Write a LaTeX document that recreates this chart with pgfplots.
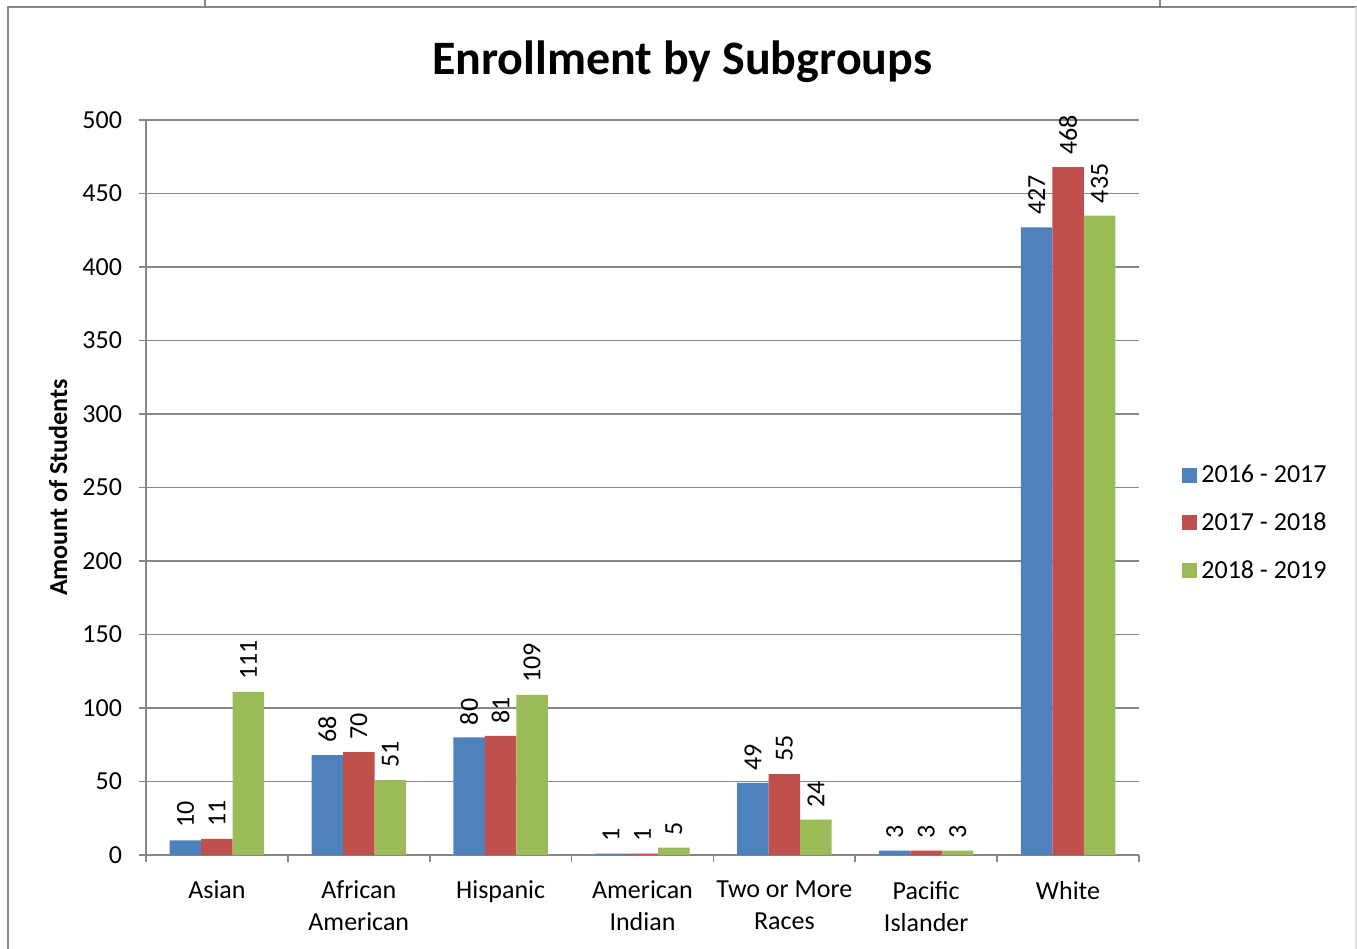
\documentclass[border=0pt]{standalone}
\usepackage{pgfplots}
\pgfplotsset{compat=1.18}
\usepackage{pgfplotstable}
\usepackage{fontspec}
\setmainfont{Carlito}

\definecolor{cblue}{HTML}{4F81BD}
\definecolor{cred}{HTML}{C0504D}
\definecolor{cgreen}{HTML}{9BBB59}
\definecolor{linegray}{HTML}{868686}

% x: 0 Asian, 1 African American, 2 Hispanic, 3 American Indian,
%    4 Two or More Races, 5 Pacific Islander, 6 White
\pgfplotstableread{
x  a   b   c
0  10  11  111
1  68  70  51
2  80  81  109
3  1   1   5
4  49  55  24
5  3   3   3
6  427 468 435
}\enrol

\newcommand{\lbl}{\fontsize{13}{16}\selectfont}

\begin{document}
\begin{tikzpicture}[x=0.5pt,y=0.5pt]
\path[use as bounding box] (0,0) rectangle (1357,949);
% frame of the sheet around the chart
\draw[linegray, line width=1pt] (7.5,0) -- (7.5,941.5) -- (1357,941.5);
\draw[linegray, line width=0.8pt] (205,949) -- (205,941.5);
\draw[linegray, line width=0.8pt] (1160,949) -- (1160,941.5);
\draw[black!12, line width=0.8pt] (1356,0) -- (1356,941.5);

\begin{axis}[
  at={(73pt,47pt)}, anchor=south west,
  scale only axis, width=496.5pt, height=367.5pt,
  xmin=-0.5, xmax=6.5, ymin=0, ymax=500,
  ybar, bar width=0.222,
  /pgf/number format/assume math mode=true,
  axis x line*=bottom, axis y line*=left,
  axis line style={linegray, line width=0.9pt, -},
  ymajorgrids, grid style={linegray, line width=0.9pt},
  tick align=outside, major tick length=3.5pt,
  tick style={linegray, line width=0.9pt},
  ytick={0,50,...,500},
  yticklabel style={font=\lbl, xshift=-5pt},
  xtick={-0.5,0.5,...,6.5}, xticklabels={},
  extra x ticks={0,1,2,3,4,5,6},
  extra x tick labels={Asian,African\\American,Hispanic,American\\Indian,Two or More\\Races,Pacific\\Islander,White},
  extra x tick style={major tick length=0pt},
  xticklabel style={font=\lbl, align=center, yshift=-9.5pt},
  title={Enrollment by Subgroups},
  title style={font=\bfseries\fontsize{24}{28}\selectfont, at={(axis description cs:0.54,1.0636)}, anchor=center, yshift=0pt},
  ylabel={Amount of Students},
  ylabel style={font=\bfseries\lbl, at={(axis description cs:-0.0886,0.5)}, anchor=center},
  nodes near coords,
  every node near coord/.append style={rotate=90, anchor=west, font=\lbl, black, inner xsep=6pt},
  legend style={at={(axis description cs:1.0433,0.4517)}, anchor=west, draw=none, fill=none,
    font=\lbl, row sep=9.5pt, inner sep=0pt},
  legend cell align=left,
  legend image code/.code={\fill[#1] (0pt,-3.75pt) rectangle (7.5pt,3.75pt);},
]
\addplot[fill=cblue, draw=none, bar shift=-0.222] table[x=x, y=a] {\enrol};
\addplot[fill=cred, draw=none, bar shift=0] table[x=x, y=b] {\enrol};
\addplot[fill=cgreen, draw=none, bar shift=0.222] table[x=x, y=c] {\enrol};
\legend{2016 - 2017, 2017 - 2018, 2018 - 2019}
\end{axis}
\end{tikzpicture}
\end{document}
